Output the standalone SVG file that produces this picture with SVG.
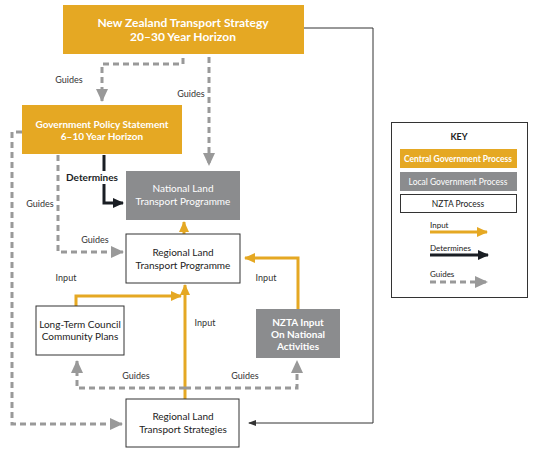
<svg xmlns="http://www.w3.org/2000/svg" width="536" height="458" viewBox="0 0 536 458">
<defs>
<style>
text{font-family:Lato,"Open Sans","Liberation Sans",sans-serif;font-size:10px;text-anchor:middle}
.lbl{fill:#333;font-size:9px}
.org{fill:#E5A823}
.gry{fill:#8B8C8E}
.wht{fill:#fff;stroke:#333;stroke-width:1}
.tw{fill:#fff}
.tb{fill:#222}
.input{fill:none;stroke:#E5A823;stroke-width:3}
.det{fill:none;stroke:#1a1e24;stroke-width:3}
.guide{fill:none;stroke:#999;stroke-width:3;stroke-dasharray:6,4}
.thin{fill:none;stroke:#333;stroke-width:1}
</style>
<marker id="mo" markerUnits="userSpaceOnUse" markerWidth="12" markerHeight="12" viewBox="0 0 12 12" refX="10" refY="6" orient="auto"><path d="M0,1 L11,6 L0,11 Z" fill="#E5A823"/></marker>
<marker id="mb" markerUnits="userSpaceOnUse" markerWidth="12" markerHeight="12" viewBox="0 0 12 12" refX="10" refY="6" orient="auto"><path d="M0,1 L11,6 L0,11 Z" fill="#1a1e24"/></marker>
<marker id="mg" markerUnits="userSpaceOnUse" markerWidth="14" markerHeight="14" viewBox="0 0 14 14" refX="12" refY="7" orient="auto"><path d="M0,1 L13,7 L0,13 Z" fill="#999"/></marker>
<marker id="mt" markerUnits="userSpaceOnUse" markerWidth="8" markerHeight="8" viewBox="0 0 8 8" refX="7" refY="4" orient="auto"><path d="M0,1 L8,4 L0,7 Z" fill="#333"/></marker>
</defs>

<g id="connectors">
<path class="thin" d="M304,28 H373 V423 H249" marker-end="url(#mt)"/>
<path class="guide" d="M183,58 V64 H102 V101" marker-end="url(#mg)"/>
<path class="guide" d="M209,57 V165" marker-end="url(#mg)"/>
<path class="det" d="M104,155 V203 H123" marker-end="url(#mb)"/>
<path class="guide" d="M22,132 H12 V424 H122" marker-end="url(#mg)"/>
<path class="guide" d="M58,155 V252 H123" marker-end="url(#mg)"/>
<path class="input" d="M184,234 V222" marker-end="url(#mo)"/>
<path class="input" d="M298,309 V258 H245" marker-end="url(#mo)"/>
<path class="input" d="M76,306 V296 H181" marker-end="url(#mo)"/>
<path class="input" d="M185,399 V285" marker-end="url(#mo)"/>
<path class="guide" d="M185,388 H77 V361" marker-end="url(#mg)"/>
<path class="guide" d="M185,388 H297 V361" marker-end="url(#mg)"/>
<text class="lbl" x="69" y="83">Guides</text>
<text class="lbl" x="191" y="97">Guides</text>
<rect x="66" y="171" width="52" height="13" fill="#fff"/>
<text x="92" y="181" style="font-weight:bold;fill:#1a1e24">Determines</text>
<text class="lbl" x="40" y="207">Guides</text>
<text class="lbl" x="95" y="243">Guides</text>
<text class="lbl" x="66" y="281">Input</text>
<text class="lbl" x="266" y="281">Input</text>
<text class="lbl" x="205" y="326">Input</text>
<text class="lbl" x="136" y="379">Guides</text>
<text class="lbl" x="245" y="379">Guides</text>
</g>

<g id="nzts">
<rect class="org" x="63" y="5" width="241" height="49"/>
<text class="tw" x="183" y="27" style="font-weight:bold;font-size:12px">New Zealand Transport Strategy</text>
<text class="tw" x="183" y="41" style="font-weight:bold;font-size:12px">20–30 Year Horizon</text>
</g>
<g id="gps">
<rect class="org" x="22" y="105" width="160" height="49"/>
<text class="tw" x="102" y="128" style="font-weight:bold;font-size:10px">Government Policy Statement</text>
<text class="tw" x="102" y="140" style="font-weight:bold;font-size:10px">6–10 Year Horizon</text>
</g>
<g id="nltp">
<rect class="gry" x="126" y="171" width="114" height="49"/>
<text class="tw" x="183" y="192">National Land</text>
<text class="tw" x="183" y="205">Transport Programme</text>
</g>
<g id="rltp">
<rect class="wht" x="126" y="234" width="114" height="49"/>
<text class="tb" x="183" y="256">Regional Land</text>
<text class="tb" x="183" y="269">Transport Programme</text>
</g>
<g id="ltccp">
<rect class="wht" x="36" y="306" width="88" height="49"/>
<text class="tb" x="80" y="328">Long-Term Council</text>
<text class="tb" x="80" y="340">Community Plans</text>
</g>
<g id="nzta">
<rect class="gry" x="256" y="309" width="84" height="49"/>
<text class="tw" x="298" y="326" style="font-weight:bold">NZTA Input</text>
<text class="tw" x="298" y="338" style="font-weight:bold">On National</text>
<text class="tw" x="298" y="350" style="font-weight:bold">Activities</text>
</g>
<g id="rlts">
<rect class="wht" x="126" y="399" width="113" height="48"/>
<text class="tb" x="183" y="420">Regional Land</text>
<text class="tb" x="183" y="433">Transport Strategies</text>
</g>

<g id="key">
<rect x="391.5" y="122.5" width="136" height="175" fill="#fff" stroke="#333" stroke-width="1"/>
<text x="459" y="140" style="font-weight:bold;font-size:9px;fill:#222">KEY</text>
<rect class="org" x="400" y="149" width="117" height="19"/>
<text class="tw" x="458" y="161.5" style="font-size:8.5px;font-weight:bold">Central Government Process</text>
<rect class="gry" x="400" y="172" width="117" height="19"/>
<text class="tw" x="458" y="184.5" style="font-size:8.5px">Local Government Process</text>
<rect class="wht" x="400.5" y="194.5" width="116" height="18"/>
<text class="tb" x="458" y="207" style="font-size:8.5px">NZTA Process</text>
<text x="430" y="228" style="font-size:8px;text-anchor:start;fill:#222">Input</text>
<path class="input" d="M430,232 H487" marker-end="url(#mo)"/>
<text x="430" y="251" style="font-size:8px;text-anchor:start;fill:#222">Determines</text>
<path class="det" d="M430,255 H488" marker-end="url(#mb)"/>
<text x="430" y="277" style="font-size:8px;text-anchor:start;fill:#222">Guides</text>
<path class="guide" d="M430,282 H487" marker-end="url(#mg)"/>
</g>
</svg>
